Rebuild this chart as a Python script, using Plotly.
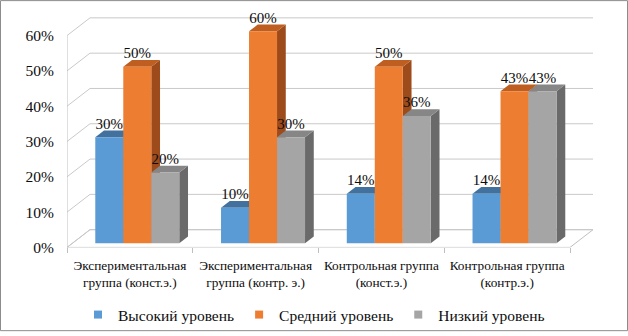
import plotly.graph_objects as go

# ---------------- data ----------------
categories = [
    "Экспериментальная<br>группа (конст.э.)",
    "Экспериментальная<br>группа (контр. э.)",
    "Контрольная группа<br>(конст.э.)",
    "Контрольная группа<br>(контр.э.)",
]
series_names = ["Высокий уровень", "Средний уровень", "Низкий уровень"]
high = [30, 10, 14, 14]
medium = [50, 60, 50, 43]
low = [20, 30, 36, 43]
y_ticks = [0, 10, 20, 30, 40, 50, 60]
y_tick_labels = ["0%", "10%", "20%", "30%", "40%", "50%", "60%"]

series_values = [high, medium, low]
front_colors = ["#5B9BD5", "#ED7D31", "#A5A5A5"]
top_colors = ["#41719C", "#BE5E21", "#868686"]
side_colors = ["#3A6690", "#9E4B1B", "#6A6A6A"]

FONT = "Liberation Serif, Tinos, Times New Roman, DejaVu Serif, serif"
TXT = "#0D0D0D"

# ---------------- geometry (pixel calibration) ----------------
W, H = 628, 336
ML, MR, MT, MB = 67, 28, 8, 85
PX_CAT = 125.75          # px per category on the front plane
PX_PCT = (H - MB - 36) / 60.0   # px per percent (0% at 251, 60% at 36)
XR = (W - ML - MR) / PX_CAT
YR = (H - MB - MT) / PX_PCT
DX = 23 / PX_CAT         # full depth shift in x units
DY = 18 / PX_PCT         # full depth shift in y units
BW = 28 / PX_CAT         # bar width
D1, D2 = 0.24, 0.62      # bar front/back depth
LABEL_LIFT = 5 / PX_PCT  # data label lift above bar front top
NCAT = len(categories)


def pt(x, y, d):
    return x + d * DX, y + d * DY


fig = go.Figure()


def poly(points, fill, line=None, width=0):
    xs = [p[0] for p in points] + [points[0][0]]
    ys = [p[1] for p in points] + [points[0][1]]
    fig.add_trace(go.Scatter(
        x=xs, y=ys, mode="lines", fill="toself", fillcolor=fill,
        line=dict(color=line or fill, width=width),
        hoverinfo="skip", showlegend=False))


# floor
poly([pt(0, 0, 0), pt(NCAT, 0, 0), pt(NCAT, 0, 1), pt(0, 0, 1)], "white", "#BFBFBF", 1)

# gridlines (left wall diagonal + back wall)
gx, gy = [], []
for v in y_ticks:
    for p in (pt(0, v, 0), pt(0, v, 1), pt(NCAT, v, 1)):
        gx.append(p[0]); gy.append(p[1])
    gx.append(None); gy.append(None)
fig.add_trace(go.Scatter(x=gx, y=gy, mode="lines", line=dict(color="#C9C9C9", width=1),
                         hoverinfo="skip", showlegend=False))

# front vertical axis line
fig.add_trace(go.Scatter(x=[0, 0], y=[0, y_ticks[-1]], mode="lines",
                         line=dict(color="#BFBFBF", width=1), hoverinfo="skip", showlegend=False))

# bars
lab_x, lab_y, lab_t = [], [], []
for c in range(NCAT):
    for s, vals in enumerate(series_values):
        v = vals[c]
        x0 = c + 0.5 - 1.5 * BW + s * BW + 0.015
        x1 = x0 + BW
        poly([pt(x1, 0, D1), pt(x1, 0, D2), pt(x1, v, D2), pt(x1, v, D1)], side_colors[s])
        poly([pt(x0, v, D1), pt(x1, v, D1), pt(x1, v, D2), pt(x0, v, D2)], top_colors[s])
        poly([pt(x0, 0, D1), pt(x1, 0, D1), pt(x1, v, D1), pt(x0, v, D1)], front_colors[s])
        lx, ly = pt((x0 + x1) / 2, v, D1)
        lab_x.append(lx); lab_y.append(ly + LABEL_LIFT); lab_t.append(f"{v}%")

fig.add_trace(go.Scatter(x=lab_x, y=lab_y, text=lab_t, mode="text", textposition="top center",
                         textfont=dict(family=FONT, size=15, color=TXT),
                         hoverinfo="skip", showlegend=False, cliponaxis=False))

# legend entries
for s, name in enumerate(series_names):
    fig.add_trace(go.Scatter(x=[None], y=[None], mode="markers", name=name,
                             marker=dict(symbol="square", size=8, color=front_colors[s])))

PW = W - ML - MR
PH = H - MB - MT
fig.update_layout(
    width=W, height=H,
    margin=dict(l=ML, r=MR, t=MT, b=MB),
    paper_bgcolor="white", plot_bgcolor="white",
    font=dict(family=FONT, color=TXT),
    xaxis=dict(range=[0, XR], showgrid=False, zeroline=False, showline=False,
               tickvals=[c + 0.5 for c in range(NCAT)], ticktext=categories,
               ticks="", tickfont=dict(family=FONT, size=13.3, color=TXT), ticklabelstandoff=8,
               minor=dict(ticks="outside", tick0=0, dtick=1, ticklen=5, tickcolor="#BFBFBF", showgrid=False)),
    yaxis=dict(range=[0, YR], showgrid=False, zeroline=False, showline=False,
               tickvals=y_ticks, ticktext=y_tick_labels, ticks="",
               tickfont=dict(family=FONT, size=15.5, color=TXT), ticklabelstandoff=12),
    showlegend=True,
    legend=dict(orientation="h", xref="container", yref="container", x=0.5, xanchor="center",
                y=1 - 315 / H, yanchor="middle", font=dict(family=FONT, size=15.5, color=TXT),
                itemwidth=30, bgcolor="rgba(0,0,0,0)"),
    shapes=[dict(type="rect", xref="paper", yref="paper",
                 x0=(0.5 - ML) / PW, x1=(W - 0.5 - ML) / PW,
                 y0=-(MB - 0.5) / PH, y1=1 + (MT - 0.5) / PH,
                 line=dict(color="#8C8C8C", width=1))],
)

fig.write_html("out.html")
